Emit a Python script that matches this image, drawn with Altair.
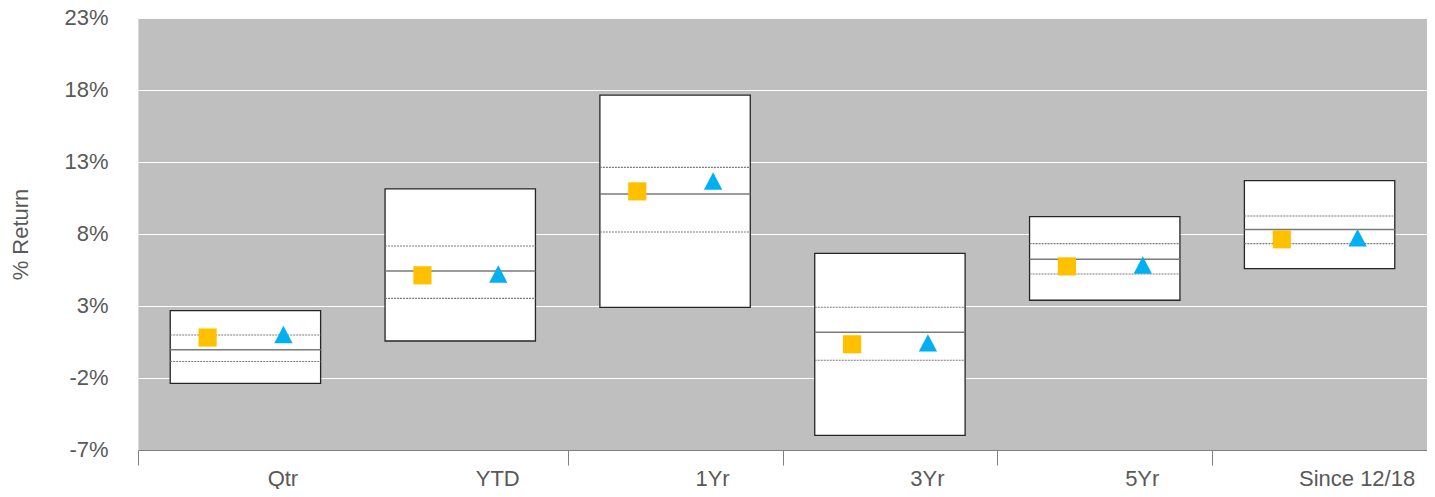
import altair as alt
import pandas as pd

periods = ["Qtr", "YTD", "1Yr", "3Yr", "5Yr", "Since 12/18"]
high = [2.68, 11.13, 17.65, 6.66, 9.20, 11.70]
upper = [0.99, 7.17, 12.63, 2.91, 7.33, 9.25]
median = [-0.04, 5.43, 10.78, 1.17, 6.24, 8.32]
lower = [-0.85, 3.53, 8.14, -0.77, 5.22, 7.33]
low = [-2.37, 0.57, 2.91, -5.98, 3.40, 5.59]
portfolio = [0.81, 5.13, 10.96, 0.34, 5.75, 7.63]
benchmark = [1.02, 5.22, 11.68, 0.44, 5.85, 7.74]
y_ticks = [-7, -2, 3, 8, 13, 18, 23]

df = pd.DataFrame({
    "period": periods, "high": high, "upper": upper, "median": median,
    "lower": lower, "low": low, "portfolio": portfolio, "benchmark": benchmark,
})

FONT = "Liberation Sans"
TXT = "#595959"
FS = 22

x_scale = alt.Scale(domain=periods, paddingInner=0, paddingOuter=0)
y_scale = alt.Scale(domain=[-7, 23], nice=False, zero=False)

x_axis = alt.Axis(
    title=None, tickBand="extent", labelOffset=37, labelAngle=0,
    labelFont=FONT, labelFontSize=FS, labelColor=TXT, labelPadding=3,
    domainColor="#7F7F7F", domainWidth=1.2,
    tickColor={"condition": {"test": "datum.value === 'Qtr'", "value": "#FFFFFF"},
               "value": "#7F7F7F"},
    tickSize=15, tickWidth=1,
    grid=False,
)
y_axis = alt.Axis(
    title="% Return", values=y_ticks, labelExpr="datum.value + '%'",
    labelFont=FONT, labelFontSize=FS, labelColor=TXT, labelPadding=30,
    labelOffset=-1,
    ticks=False, domain=False, grid=True, gridColor="#FFFFFF", gridWidth=1.2,
    titleFont=FONT, titleFontSize=FS, titleFontWeight="normal", titleColor=TXT,
    titleX=-118, titleY=216, titleAngle=270, titleBaseline="middle", titleAlign="center",
)


def xenc(bp=None):
    if bp is None:
        return alt.X("period:N", scale=x_scale, axis=x_axis, sort=periods)
    return alt.X("period:N", scale=x_scale, axis=x_axis, sort=periods, bandPosition=bp)


def yenc(field):
    return alt.Y(f"{field}:Q", scale=y_scale, axis=y_axis)


base = alt.Chart(df)

box = base.mark_bar(
    fill="white", stroke="#262626", strokeWidth=1.3, width=alt.RelativeBandSize(0.7)
).encode(x=xenc(), y=yenc("low"), y2="high:Q")


def hline(field, dash, width):
    kw = dict(color="#7A7A7A", strokeWidth=width)
    if dash:
        kw["strokeDash"] = dash
    return base.mark_rule(**kw).encode(
        x=xenc(0.15), x2=alt.X2("period", bandPosition=0.85), y=yenc(field)
    )


l_upper = hline("upper", [2, 1], 1.1)
l_median = hline("median", None, 1.5)
l_lower = hline("lower", [2, 1], 1.1)

sq = base.mark_point(
    shape="square", filled=True, size=330, color="#FFC000", opacity=1, strokeWidth=0
).encode(x=xenc(0.324), y=yenc("portfolio"))

tri = base.mark_point(
    shape="M0,-0.95L1,0.95L-1,0.95Z", filled=True, size=335, color="#00B0F0",
    opacity=1, strokeWidth=0
).encode(x=xenc(0.677), y=yenc("benchmark"))

chart = alt.layer(box, l_upper, l_median, l_lower, sq, tri).properties(
    width=1289, height=432,
    autosize=alt.AutoSizeParams(type="none"),
    padding={"left": 130, "top": 10, "right": 0, "bottom": 39},
).configure_view(
    fill="#BFBFBF", stroke="#D9D9D9", strokeWidth=1
)

chart.save("out.html", embed_options={"renderer": "svg", "actions": False})
